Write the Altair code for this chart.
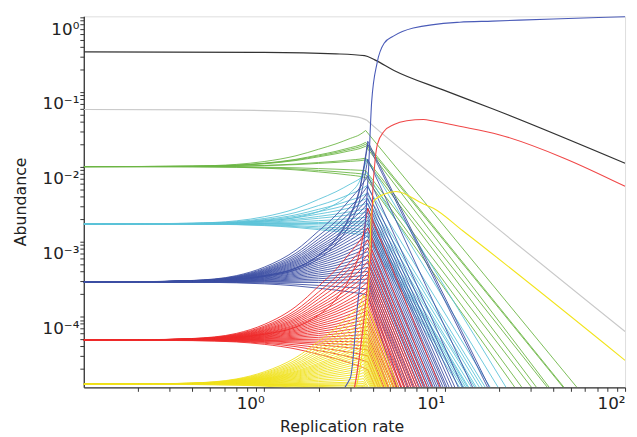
import altair as alt
import pandas as pd

# ---------------- axis ranges ----------------
X_MIN, X_MAX = 0.1, 100.0
Y_MIN, Y_MAX = 1.13e-5, 1.03

# shared shape of the slow rise before the error threshold (fraction of log-rise reached)
RISE_X = [0.1, 0.2, 0.4, 0.7, 1.0, 1.5, 2.0, 2.5, 3.0, 3.4]
RISE_F = [0.0, 0.003, 0.015, 0.06, 0.14, 0.30, 0.48, 0.63, 0.78, 0.89]
STEEP_F = [0.0, 0.002, 0.008, 0.02, 0.045, 0.10, 0.19, 0.31, 0.48, 0.68]

# ---------------- bundles (start level, level at threshold, x where it reaches the bottom) ----
GREEN_START = 0.0101
GREEN_PEAK_X = 3.65
GREEN_PEAKS = [0.0307, 0.0213, 0.0201, 0.0189, 0.0131, 0.0124, 0.0089, 0.0079, 0.0072]
GREEN_ENDS = [54.1, 45.9, 45.4, 38.0, 37.1, 32.3, 30.3, 26.8, 24.5]

CYAN_START = 0.00173
CYAN_PEAK_X = 3.7
CYAN_PEAKS = [0.0127, 0.00834, 0.00562, 0.00441, 0.00379, 0.00326, 0.00280, 0.00248,
              0.00213, 0.00189, 0.00178, 0.00162, 0.00144, 0.00131, 0.00120]
CYAN_ENDS = [21.9, 19.8, 17.9, 16.8, 16.2, 15.6, 15.0, 14.7, 14.1, 13.6, 13.4, 13.1, 12.8, 12.5, 12.1]

BLUE_START = 2.89e-4
BLUE_PEAK_X = 3.75
BLUE_PEAKS = [0.0220, 0.0201, 0.0127, 0.00762, 0.00562, 0.00455, 0.00379, 0.00326, 0.00280,
              0.00248, 0.00220, 0.00195, 0.00173, 0.00153, 0.00135, 0.00120, 0.00106, 9.42e-4,
              8.34e-4, 7.38e-4, 6.54e-4, 5.79e-4, 5.14e-4, 4.55e-4, 4.03e-4, 3.57e-4, 3.16e-4,
              2.80e-4, 2.33e-4, 1.95e-4]
BLUE_ENDS = [17.7, 17.3, 14.3, 12.6, 11.9, 11.4, 11.0, 10.6, 10.3, 10.1, 9.82, 9.57, 9.33, 9.10,
             8.88, 8.66, 8.44, 8.23, 8.03, 7.83, 7.64, 7.45, 7.26, 7.00, 6.73, 6.49, 6.25, 6.01,
             5.72, 5.44]

RED_START = 4.83e-5
RED_PEAK_X = 3.75
RED_PEAKS = [0.00280, 0.00153, 0.00106, 8.34e-4, 6.75e-4, 5.46e-4, 4.55e-4, 3.91e-4, 3.36e-4,
             2.89e-4, 2.48e-4, 2.20e-4, 1.95e-4, 1.73e-4, 1.53e-4, 1.35e-4, 1.20e-4, 1.06e-4,
             9.42e-5, 8.34e-5, 7.38e-5, 6.54e-5, 5.79e-5, 5.14e-5, 4.55e-5, 4.03e-5, 3.57e-5,
             2.98e-5, 2.48e-5, 1.95e-5]
RED_ENDS = [9.45, 8.55, 8.03, 7.73, 7.45, 7.17, 7.00, 6.82, 6.65, 6.49, 6.33, 6.17, 6.01, 5.94,
            5.79, 5.72, 5.58, 5.44, 5.37, 5.24, 5.18, 5.05, 4.92, 4.86, 4.74, 4.62, 4.56, 4.40,
            4.29, 4.13]

YELLOW_START = 1.24e-5
YELLOW_PEAK_X = 3.55
YELLOW_PEAKS = [1.95e-4, 1.53e-4, 1.27e-4, 1.06e-4, 9.14e-5, 7.85e-5, 6.95e-5, 6.16e-5, 5.46e-5,
                4.83e-5, 4.41e-5, 4.03e-5, 3.68e-5, 3.36e-5, 3.07e-5, 2.80e-5, 2.56e-5, 2.33e-5,
                2.13e-5, 1.95e-5, 1.78e-5, 1.62e-5, 1.48e-5, 1.35e-5, 1.27e-5, 1.20e-5, 1.16e-5,
                1.09e-5, 1.03e-5, 9.4e-6, 8.3e-6]
YELLOW_ENDS = [5.51, 5.31, 5.18, 5.05, 4.92, 4.80, 4.74, 4.68, 4.56, 4.51, 4.45, 4.40, 4.34, 4.29,
               4.24, 4.18, 4.13, 4.08, 4.03, 3.98, 3.93, 3.88, 3.78, 3.73, 3.65, 3.60, 3.55, 3.55,
               3.55, 3.55, 3.55]

# ---------------- single curves ----------------
BLACK_X = [0.1, 1.0, 2.5, 3.6, 4.1, 5.24, 9.8, 18.4, 100.0]
BLACK_Y = [0.346, 0.340, 0.325, 0.307, 0.27, 0.195, 0.107, 0.060, 0.0112]

GREY_X = [0.1, 0.5, 1.5, 2.2, 3.0, 3.46, 3.7, 3.93, 8.6, 100.0]
GREY_Y = [0.0585, 0.058, 0.055, 0.052, 0.048, 0.045, 0.042, 0.037, 0.0077, 6.3e-5]

NEWMASTER_X = [0.1, 2.0, 3.0, 3.3, 3.55, 3.65, 3.79, 3.94, 4.23, 4.62, 5.2, 6.7, 12.1, 18.4, 40.0, 100.0]
NEWMASTER_Y = [5e-6, 6e-6, 1.5e-5, 1.5e-4, 7.8e-4, 2.1e-3, 9.6e-3, 0.074, 0.25, 0.45,
               0.56, 0.72, 0.86, 0.89, 0.95, 1.02]

NEWRED_X = [0.1, 3.0, 3.5, 3.8, 3.93, 3.98, 4.08, 4.24, 4.62, 5.24, 6.17, 7.63, 8.66, 12.1, 20.0, 45.9, 100.0]
NEWRED_Y = [5e-6, 8e-6, 6e-5, 4e-4, 7.9e-4, 3.6e-3, 9.6e-3, 0.020, 0.030, 0.037,
            0.0415, 0.043, 0.041, 0.035, 0.027, 0.0131, 0.0055]

NEWYELLOW_X = [0.1, 3.0, 3.6, 3.8, 3.93, 4.08, 5.05, 5.37, 7.63, 8.66, 12.6, 100.0]
NEWYELLOW_Y = [5e-6, 8e-6, 6e-5, 3e-4, 2.4e-3, 3.6e-3, 4.6e-3, 4.7e-3, 3.2e-3, 2.8e-3,
               1.4e-3, 2.6e-5]

COLORS = {
    "black": "#333333", "grey": "#c9c9c9", "green": "#6cb544", "cyan": "#5cc3d8",
    "blue": "#3d4fa3", "red": "#ee2b2b", "yellow": "#f0e11c",
    "newmaster": "#4a5bb8", "newred": "#f04848", "newyellow": "#f2e41e",
}

GROUPS = [
    ("green", GREEN_START, GREEN_PEAK_X, GREEN_PEAKS, GREEN_ENDS, 0),
    ("cyan", CYAN_START, CYAN_PEAK_X, CYAN_PEAKS, CYAN_ENDS, 1),
    ("blue", BLUE_START, BLUE_PEAK_X, BLUE_PEAKS, BLUE_ENDS, 3),
    ("red", RED_START, RED_PEAK_X, RED_PEAKS, RED_ENDS, 1),
    ("yellow", YELLOW_START, YELLOW_PEAK_X, YELLOW_PEAKS, YELLOW_ENDS, 0),
]

# ---------------- axes ----------------
SUP = "⁰¹²³⁴⁵⁶⁷⁸⁹"
x_ticks = [m * 10.0 ** e for e in range(-1, 2) for m in range(1, 10)] + [100.0]
x_ticks = [v for v in x_ticks if v > X_MIN * 1.01]
y_ticks = [m * 10.0 ** e for e in range(-5, 0) for m in range(1, 10)] + [1.0]
y_ticks = [v for v in y_ticks if Y_MIN <= v <= Y_MAX]

lab = ("abs(log(datum.value)/LN10 - round(log(datum.value)/LN10)) < 0.01 ? "
       "'10' + (round(log(datum.value)/LN10) < 0 ? '⁻' : '') + "
       "substring('" + SUP + "', abs(round(log(datum.value)/LN10)), abs(round(log(datum.value)/LN10)) + 1) : ''")

FONT = "DejaVu Sans"
common_axis = dict(grid=False, ticks=True, tickSize=4, tickColor="#333333", domainColor="#333333",
                   domainWidth=1.3, tickWidth=1, labelFont=FONT, labelFontSize=17, labelColor="#222222",
                   labelExpr=lab, labelOverlap=False, titleFont=FONT, titleFontSize=16,
                   titleFontWeight="normal", titleColor="#222222")

x_axis = alt.Axis(values=x_ticks, title="Replication rate", labelAlign="right", labelBaseline="top",
                  labelPadding=4, titleX=262, titleY=45, titleAlign="center",
                  titleBaseline="alphabetic", **common_axis)
y_axis = alt.Axis(values=y_ticks, title="Abundance", labelAlign="right", labelBaseline="middle",
                  labelPadding=1, labelOffset=12, titleX=-59, titleY=188, titleAlign="center",
                  titleBaseline="alphabetic", titleAngle=270, **common_axis)

xs = alt.Scale(type="log", domain=[X_MIN, X_MAX], nice=False)
ys = alt.Scale(type="log", domain=[Y_MIN, Y_MAX], nice=False)


def enc(ch):
    return ch.encode(
        x=alt.X("x:Q", scale=xs, axis=x_axis),
        y=alt.Y("y:Q", scale=ys, axis=y_axis),
        detail="id:N",
        order="k:Q",
    )


layers = []


def single(name, xv, yv, width=1.1):
    df = pd.DataFrame({"x": xv, "y": yv, "id": name, "k": range(len(xv))})
    layers.append(enc(alt.Chart(df).mark_line(interpolate="monotone", clip=True,
                                              color=COLORS[name], strokeWidth=width)))


single("black", BLACK_X, BLACK_Y, 1.2)
single("grey", GREY_X, GREY_Y, 1.2)

for name, y0, px, peaks, ends, nsteep in GROUPS:
    rise, fall = [], []
    for i, (yp, xe) in enumerate(zip(peaks, ends)):
        shape = STEEP_F if i < nsteep else RISE_F
        lid = f"{name}{i}"
        for k, (xr, f) in enumerate(zip(RISE_X, shape)):
            rise.append({"x": xr, "y": y0 * (yp / y0) ** f, "id": lid, "k": k})
        rise.append({"x": px, "y": yp, "id": lid, "k": len(RISE_X)})
        if xe > px:
            fall.append({"x": px, "y": yp, "id": lid, "k": 0})
            fall.append({"x": xe, "y": Y_MIN, "id": lid, "k": 1})
    layers.append(enc(alt.Chart(pd.DataFrame(rise)).mark_line(
        interpolate="monotone", clip=True, color=COLORS[name], strokeWidth=1.0, opacity=0.9)))
    if fall:
        layers.append(enc(alt.Chart(pd.DataFrame(fall)).mark_line(
            clip=True, color=COLORS[name], strokeWidth=1.0, opacity=0.9)))

single("newyellow", NEWYELLOW_X, NEWYELLOW_Y)
single("newred", NEWRED_X, NEWRED_Y)
single("newmaster", NEWMASTER_X, NEWMASTER_Y)

chart = alt.layer(*layers).properties(
    width=550, height=377,
    autosize=alt.AutoSizeParams(type="none"),
    padding={"left": 77, "top": 5, "right": 4, "bottom": 50},
).configure_view(stroke=None).configure(background="white")

chart.save("out.html", embed_options={"renderer": "svg", "actions": False})
